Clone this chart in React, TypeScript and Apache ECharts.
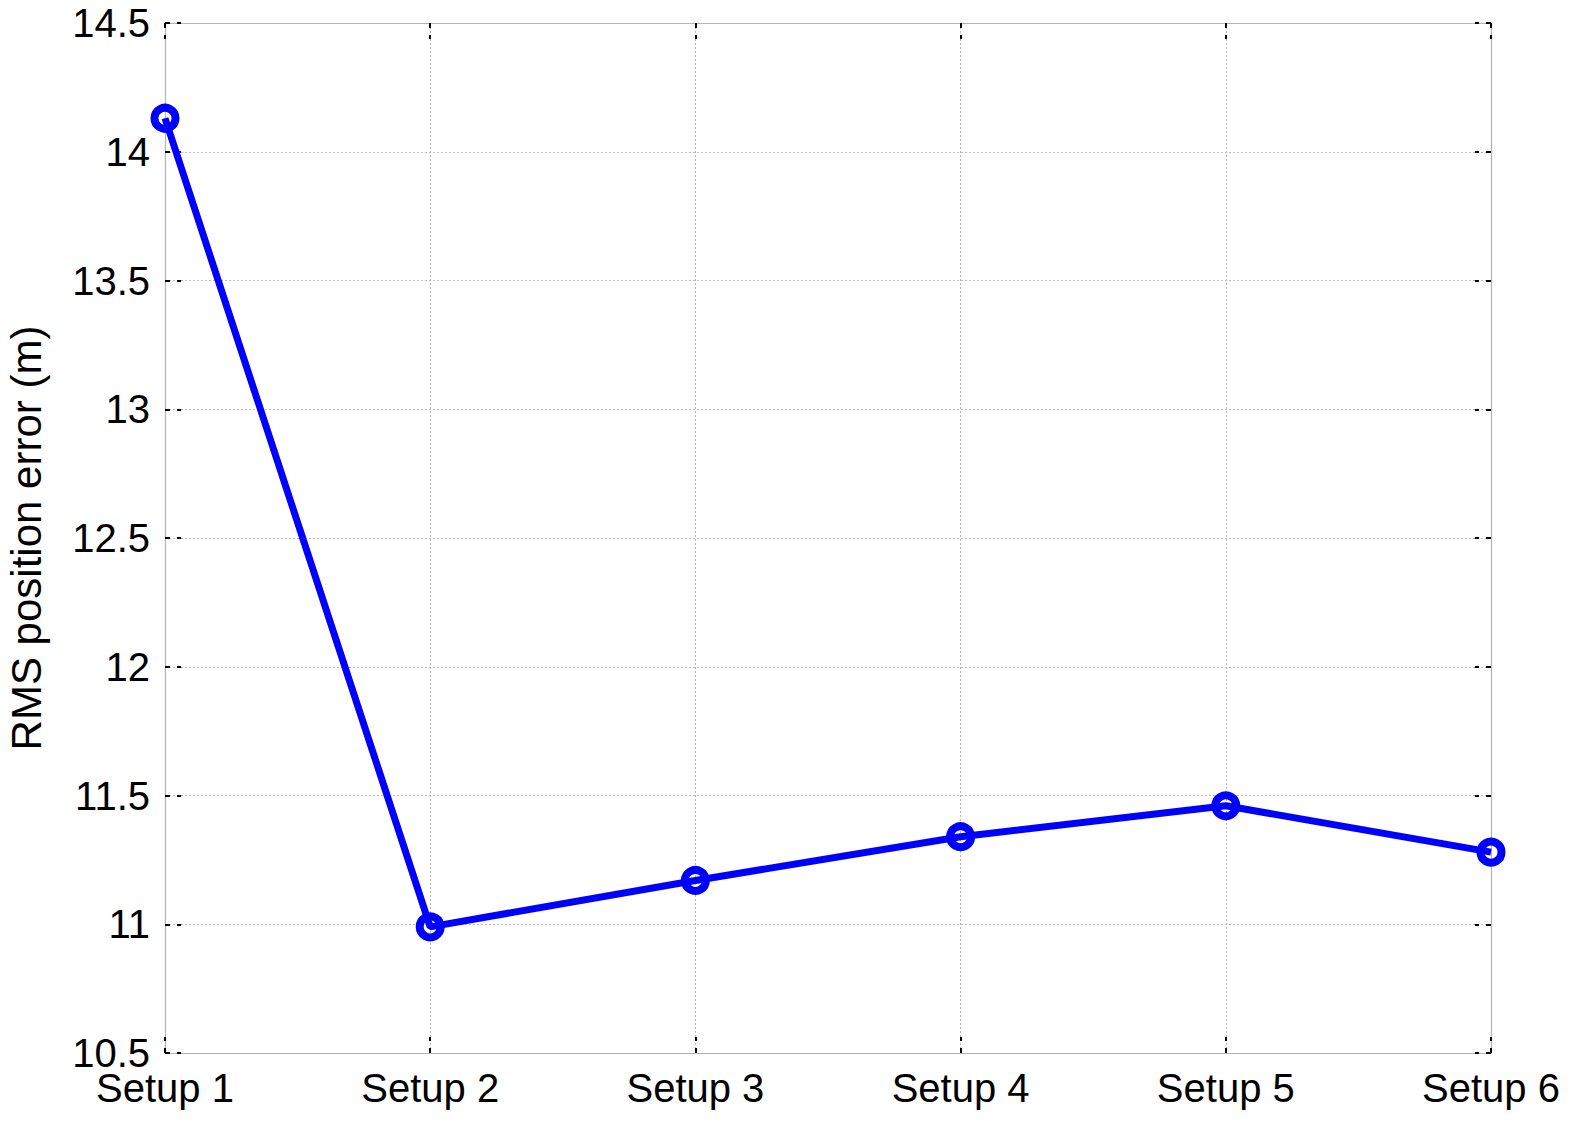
import React, { useEffect, useRef } from "react";
import * as echarts from "echarts";

const categories = ["Setup 1", "Setup 2", "Setup 3", "Setup 4", "Setup 5", "Setup 6"];
const rmsError = [14.13, 10.99, 11.17, 11.34, 11.46, 11.28];
const yMin = 10.5;
const yMax = 14.5;
const yStep = 0.5;

const FONT = "'Liberation Sans', Arial, Helvetica, sans-serif";

export default function App() {
  const ref = useRef<HTMLDivElement>(null);
  useEffect(() => {
    document.body.style.margin = "0";
    const chart = echarts.init(ref.current!, null, { renderer: "svg" });
    const tickStyle = { show: true, inside: true, length: 16, lineStyle: { color: "#000", width: 2, type: [5, 7] as any } };
    const boxLine = { show: true, lineStyle: { color: "#b3b3b3", width: 1.2 } };
    const gridLine = { show: true, lineStyle: { color: "#b8b8b8", width: 1, type: [2, 2] as any } };
    chart.setOption({
      animation: false,
      backgroundColor: "#ffffff",
      textStyle: { fontFamily: FONT },
      grid: { left: 165, right: 80, top: 23, bottom: 69, containLabel: false, outerBoundsMode: "none" },
      xAxis: [
        {
          type: "category",
          data: categories,
          boundaryGap: false,
          axisLine: boxLine,
          axisTick: { ...tickStyle, alignWithLabel: true },
          splitLine: gridLine,
          axisLabel: { color: "#000", fontSize: 40, fontFamily: FONT, margin: 15 },
        },
        {
          type: "category",
          data: categories,
          boundaryGap: false,
          position: "top",
          axisLine: boxLine,
          axisTick: tickStyle,
          axisLabel: { show: false },
          splitLine: { show: false },
        },
      ],
      yAxis: [
        {
          type: "value",
          min: yMin,
          max: yMax,
          interval: yStep,
          name: "RMS position error (m)",
          nameLocation: "middle",
          nameGap: 118,
          nameTextStyle: { color: "#000", fontSize: 42, fontFamily: FONT },
          axisLine: boxLine,
          axisTick: tickStyle,
          splitLine: gridLine,
          axisLabel: { color: "#000", fontSize: 40, fontFamily: FONT, margin: 15 },
        },
        {
          type: "value",
          min: yMin,
          max: yMax,
          interval: yStep,
          position: "right",
          axisLine: boxLine,
          axisTick: tickStyle,
          axisLabel: { show: false },
          splitLine: { show: false },
        },
      ],
      series: [
        {
          type: "line",
          data: rmsError,
          xAxisIndex: 0,
          yAxisIndex: 0,
          lineStyle: { color: "#0000ff", width: 7 },
          symbol: "circle",
          symbolSize: 21,
          itemStyle: { color: "rgba(255,255,255,0)", borderColor: "#0000ff", borderWidth: 8 },
          z: 5,
        },
      ],
    });
    return () => chart.dispose();
  }, []);
  return <div ref={ref} style={{ width: 1571, height: 1122 }} />;
}
